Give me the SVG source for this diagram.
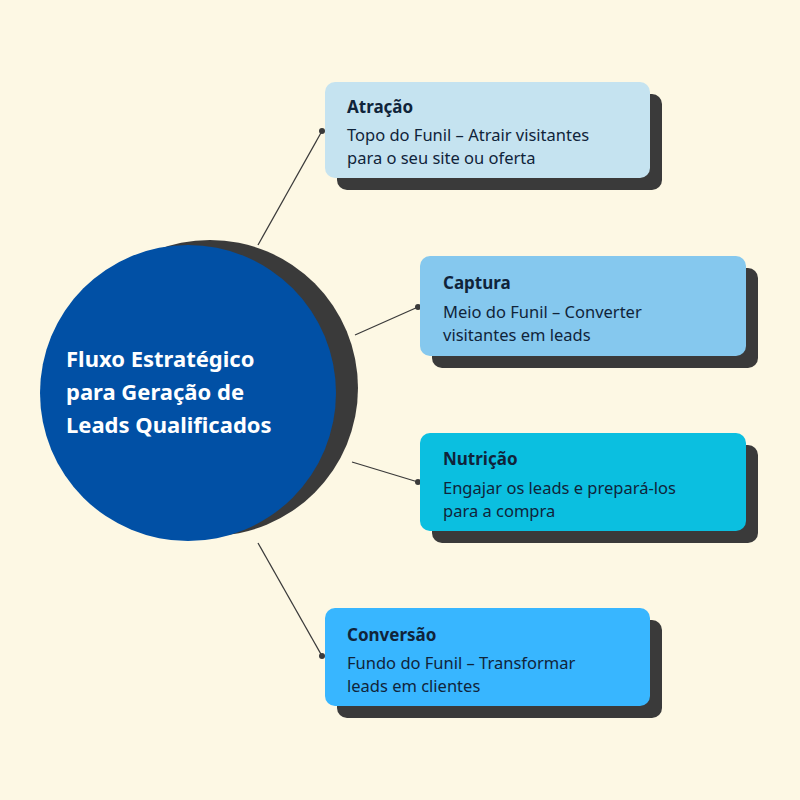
<svg xmlns="http://www.w3.org/2000/svg" width="800" height="800" viewBox="0 0 800 800">
<style>
.sh{fill:#3a3a3a}
.t{font-family:"Noto Sans","Open Sans",sans-serif;font-size:17px;font-weight:bold;fill:#10243a}
.b{font-family:"Noto Sans","Open Sans",sans-serif;font-size:16.5px;fill:#10243a}
.c{stroke:#3a3a3a;stroke-width:1.3;fill:none}
.d{fill:#3a3a3a}
.h{font-family:"Noto Sans","Open Sans",sans-serif;font-size:22px;font-weight:bold;fill:#ffffff}
</style>
<rect width="800" height="800" fill="#fdf8e4"/>
<g id="connectors">
<line class="c" x1="258" y1="245" x2="322" y2="131"/><circle class="d" cx="322" cy="131" r="3"/>
<line class="c" x1="355" y1="335" x2="418" y2="307"/><circle class="d" cx="418" cy="307" r="3"/>
<line class="c" x1="352" y1="462" x2="418" y2="482"/><circle class="d" cx="418" cy="482" r="3"/>
<line class="c" x1="258" y1="543" x2="322" y2="656"/><circle class="d" cx="322" cy="656" r="3"/>
</g>
<g id="center">
<circle class="sh" cx="210" cy="388" r="148"/>
<circle cx="188" cy="393" r="148" fill="#0150a5"/>
<text class="h" x="66" y="367">Fluxo Estratégico</text>
<text class="h" x="66" y="400">para Geração de</text>
<text class="h" x="66" y="433">Leads Qualificados</text>
</g>
<g id="atracao">
<rect class="sh" x="337" y="94" width="325" height="96" rx="10"/>
<rect x="325" y="82" width="325" height="96" rx="10" fill="#c5e3f0"/>
<text class="t" x="347" y="113">Atração</text>
<text class="b" x="347" y="141">Topo do Funil – Atrair visitantes</text>
<text class="b" x="347" y="164">para o seu site ou oferta</text>
</g>
<g id="captura">
<rect class="sh" x="432" y="268" width="326" height="100" rx="10"/>
<rect x="420" y="256" width="326" height="100" rx="10" fill="#85c8ee"/>
<text class="t" x="443" y="289">Captura</text>
<text class="b" x="443" y="318">Meio do Funil – Converter</text>
<text class="b" x="443" y="341">visitantes em leads</text>
</g>
<g id="nutricao">
<rect class="sh" x="432" y="445" width="326" height="98" rx="10"/>
<rect x="420" y="433" width="326" height="98" rx="10" fill="#0bbfe0"/>
<text class="t" x="443" y="465">Nutrição</text>
<text class="b" x="443" y="494">Engajar os leads e prepará-los</text>
<text class="b" x="443" y="517">para a compra</text>
</g>
<g id="conversao">
<rect class="sh" x="337" y="620" width="325" height="98" rx="10"/>
<rect x="325" y="608" width="325" height="98" rx="10" fill="#38b6ff"/>
<text class="t" x="347" y="641">Conversão</text>
<text class="b" x="347" y="669">Fundo do Funil – Transformar</text>
<text class="b" x="347" y="692">leads em clientes</text>
</g>
</svg>
